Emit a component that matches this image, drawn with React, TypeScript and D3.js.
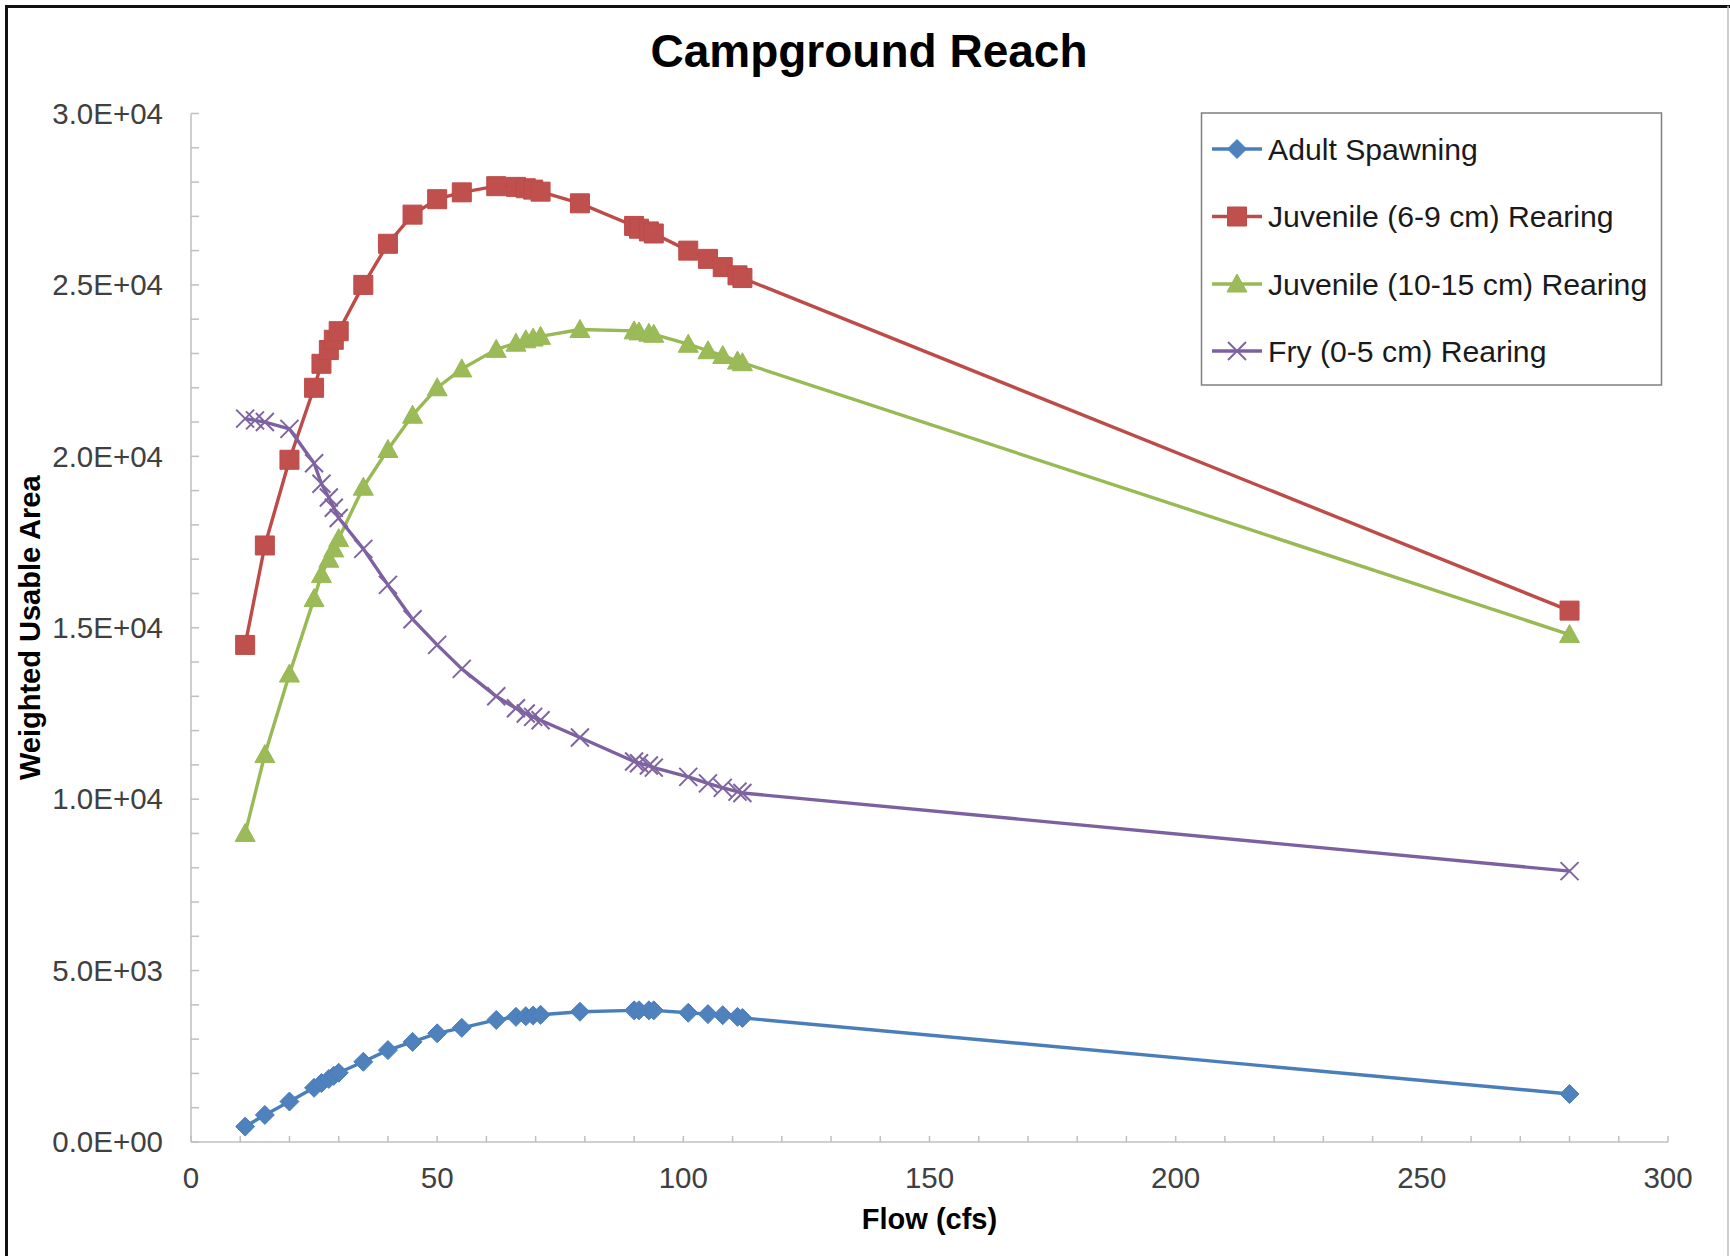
import React from "react";
import * as d3 from "d3";

// Flow values (cfs) shared by the spawning and juvenile series
const flows = [11, 15, 20, 25, 26.5, 28, 29, 30, 35, 40, 45, 50, 55, 62, 66, 68, 69.5, 71, 79, 90, 91, 93, 94, 101, 105, 108, 111, 112, 280];
// Fry series has one extra low-flow point
const fryFlows = [11, 13, 15, 20, 25, 26.5, 28, 29, 30, 35, 40, 45, 50, 55, 62, 66, 68, 69.5, 71, 79, 90, 91, 93, 94, 101, 105, 108, 111, 112, 280];

// Weighted usable area per life stage
const adultSpawning = [450, 790, 1180, 1580, 1720, 1840, 1930, 2020, 2340, 2680, 2920, 3170, 3330, 3560, 3650, 3670, 3690, 3710, 3800, 3840, 3840, 3840, 3840, 3770, 3730, 3700, 3650, 3620, 1400];
const juvenile69 = [14500, 17400, 19900, 22000, 22700, 23100, 23400, 23650, 25000, 26200, 27050, 27500, 27700, 27880, 27860, 27820, 27780, 27720, 27380, 26720, 26640, 26560, 26500, 26000, 25760, 25520, 25280, 25200, 15500];
const juvenile1015 = [9000, 11300, 13650, 15850, 16550, 17000, 17300, 17600, 19100, 20200, 21200, 22000, 22550, 23120, 23300, 23400, 23450, 23500, 23700, 23660, 23630, 23590, 23560, 23270, 23080, 22940, 22780, 22730, 14800];
const fryRearing = [21100, 21050, 21000, 20800, 19800, 19200, 18800, 18500, 18200, 17300, 16250, 15250, 14500, 13800, 13000, 12650, 12500, 12400, 12300, 11800, 11100, 11050, 10980, 10920, 10650, 10460, 10330, 10220, 10180, 7900];

const seriesNames = [
  "Adult Spawning",
  "Juvenile (6-9 cm) Rearing",
  "Juvenile (10-15 cm) Rearing",
  "Fry (0-5 cm) Rearing",
];

const xTicks = [0, 50, 100, 150, 200, 250, 300];
const yTicks = [0, 5000, 10000, 15000, 20000, 25000, 30000];

const W = 1730;
const H = 1256;
const plot = { left: 191, right: 1668, top: 113.5, bottom: 1142 };
const FONT = "'Liberation Sans', Arial, Helvetica, sans-serif";

type Marker = "diamond" | "square" | "triangle" | "cross";

const styles: { line: string; fill: string; marker: Marker }[] = [
  { line: "#4A7EBB", fill: "#4F81BD", marker: "diamond" },
  { line: "#BE4B48", fill: "#C0504D", marker: "square" },
  { line: "#98B954", fill: "#9BBB59", marker: "triangle" },
  { line: "#7D60A0", fill: "#8064A2", marker: "cross" },
];

function markerPath(m: Marker): string {
  switch (m) {
    case "diamond": {
      const r = 9.5;
      return `M0,${-r}L${r},0L0,${r}L${-r},0Z`;
    }
    case "square": {
      const r = 9.5;
      return `M${-r},${-r}H${r}V${r}H${-r}Z`;
    }
    case "triangle": {
      const r = 10;
      return `M0,${-r}L${r},${r * 0.8}L${-r},${r * 0.8}Z`;
    }
    case "cross": {
      const r = 9;
      return `M${-r},${-r}L${r},${r}M${-r},${r}L${r},${-r}`;
    }
  }
}

function fmtSci(v: number): string {
  const [mant, exp] = v.toExponential(1).split("e");
  const e = parseInt(exp, 10);
  const sign = e < 0 ? "-" : "+";
  return `${mant}E${sign}${String(Math.abs(e)).padStart(2, "0")}`;
}

export default function App() {
  const x = d3.scaleLinear().domain([0, 300]).range([plot.left, plot.right]);
  const y = d3.scaleLinear().domain([0, 30000]).range([plot.bottom, plot.top]);

  const series = [
    { xs: flows, ys: adultSpawning },
    { xs: flows, ys: juvenile69 },
    { xs: flows, ys: juvenile1015 },
    { xs: fryFlows, ys: fryRearing },
  ];

  const line = d3
    .line<[number, number]>()
    .x((d) => x(d[0]))
    .y((d) => y(d[1]));

  const xMinor = d3.range(0, 301, 10);
  const yMinor = d3.range(0, 30001, 1000);
  const axisColor = "#BFBFBF";

  const legend = { left: 1201.5, top: 113, right: 1661.5, bottom: 385 };
  const legendRows = [149, 216.5, 284, 351];

  return (
    <svg
      width={W}
      height={H}
      style={{ position: "absolute", left: 0, top: 0, background: "#fff" }}
      fontFamily={FONT}
    >
      <rect x={0} y={0} width={W} height={H} fill="#fff" />
      {/* chart frame */}
      <line x1={6.5} y1={5} x2={6.5} y2={H} stroke="#111" strokeWidth={3} />
      <line x1={5} y1={6.5} x2={W} y2={6.5} stroke="#111" strokeWidth={3} />
      <line x1={1728} y1={6} x2={1728} y2={H} stroke="#BDBDBD" strokeWidth={1.5} />

      {/* title */}
      <text x={869} y={67} textAnchor="middle" fontSize={46} fontWeight="bold" fill="#000">
        Campground Reach
      </text>

      {/* axes */}
      <line x1={plot.left} y1={plot.top} x2={plot.left} y2={plot.bottom} stroke={axisColor} strokeWidth={1.5} />
      <line x1={plot.left} y1={plot.bottom} x2={plot.right} y2={plot.bottom} stroke={axisColor} strokeWidth={1.5} />
      {yMinor.map((v) => (
        <line key={`ym${v}`} x1={plot.left} x2={plot.left + 8} y1={y(v)} y2={y(v)} stroke={axisColor} strokeWidth={1.5} />
      ))}
      {xMinor.map((v) => (
        <line key={`xm${v}`} x1={x(v)} x2={x(v)} y1={plot.bottom} y2={plot.bottom - 6} stroke={axisColor} strokeWidth={1.5} />
      ))}
      {yTicks.map((v) => (
        <text key={`yt${v}`} x={163} y={y(v)} dy="0.35em" textAnchor="end" fontSize={29.5} fill="#404040">
          {fmtSci(v)}
        </text>
      ))}
      {xTicks.map((v) => (
        <text key={`xt${v}`} x={x(v)} y={1178} dy="0.35em" textAnchor="middle" fontSize={29.5} fill="#404040">
          {v}
        </text>
      ))}

      {/* axis titles */}
      <text x={(plot.left + plot.right) / 2} y={1219} dy="0.35em" textAnchor="middle" fontSize={29} fontWeight="bold" fill="#000">
        Flow (cfs)
      </text>
      <text
        transform={`translate(30, ${(plot.top + plot.bottom) / 2}) rotate(-90)`}
        dy="0.35em"
        textAnchor="middle"
        fontSize={29}
        fontWeight="bold"
        fill="#000"
      >
        Weighted Usable Area
      </text>

      {/* series */}
      {series.map((s, i) => {
        const pts = s.xs.map((fx, j) => [fx, s.ys[j]] as [number, number]);
        const st = styles[i];
        const isCross = st.marker === "cross";
        return (
          <g key={`s${i}`}>
            <path d={line(pts) ?? ""} fill="none" stroke={st.line} strokeWidth={3.4} strokeLinejoin="round" />
            {pts.map((p, j) => (
              <path
                key={j}
                transform={`translate(${x(p[0])},${y(p[1])})`}
                d={markerPath(st.marker)}
                fill={isCross ? "none" : st.fill}
                stroke={isCross ? st.fill : st.line}
                strokeWidth={isCross ? 2 : 1}
              />
            ))}
          </g>
        );
      })}

      {/* legend */}
      <rect
        x={legend.left}
        y={legend.top}
        width={legend.right - legend.left}
        height={legend.bottom - legend.top}
        fill="#fff"
        stroke="#7F7F7F"
        strokeWidth={1.5}
      />
      {seriesNames.map((name, i) => {
        const st = styles[i];
        const cy = legendRows[i];
        const isCross = st.marker === "cross";
        return (
          <g key={`lg${i}`}>
            <line x1={1212} x2={1262} y1={cy} y2={cy} stroke={st.line} strokeWidth={3.4} />
            <path
              transform={`translate(1237,${cy})`}
              d={markerPath(st.marker)}
              fill={isCross ? "none" : st.fill}
              stroke={isCross ? st.fill : st.line}
              strokeWidth={isCross ? 2 : 1}
            />
            <text x={1268} y={cy} dy="0.35em" fontSize={30.2} fill="#1a1a1a">
              {name}
            </text>
          </g>
        );
      })}
    </svg>
  );
}
